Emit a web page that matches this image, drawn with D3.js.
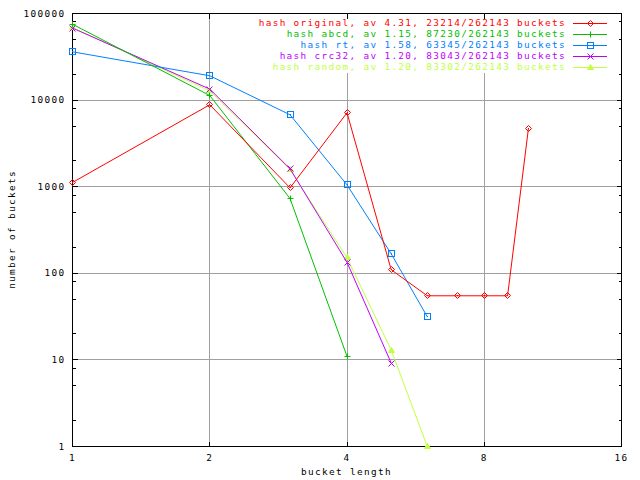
<!DOCTYPE html>
<html><head><meta charset="utf-8">
<script src="https://cdn.jsdelivr.net/npm/d3@7"></script>
<style>
body{margin:0;background:#fff;}
svg text{font-family:"DejaVu Sans Mono","Liberation Mono",monospace;font-size:9.4px;letter-spacing:1.34px;fill:#000;}
</style></head>
<body><svg id="c" width="640" height="480"></svg>
<script>
// ---- data ----
const seriesNames = ["hash original, av 4.31, 23214/262143 buckets",
  "hash abcd, av 1.15, 87230/262143 buckets",
  "hash rt, av 1.58, 63345/262143 buckets",
  "hash crc32, av 1.20, 83043/262143 buckets",
  "hash random, av 1.20, 83302/262143 buckets"];
const lenOriginal = [1,2,3,4,5,6,7,8,9,10];
const cntOriginal = [1120,8830,970,7130,110,55,55,55,55,4700];
const lenAbcd = [1,2,3,4];
const cntAbcd = [75200,11300,730,11];
const lenRt = [1,2,3,4,5,6];
const cntRt = [36100,19100,6770,1050,168,31.5];
const lenCrc32 = [1,2,3,4,5];
const cntCrc32 = [67900,13400,1610,134,9.2];
const lenRandom = [1,2,3,4,5,6];
const cntRandom = [68800,12800,1580,151,13,1];
const xTickValues = [1,2,4,8,16];
const xTickLabels = ["1","2","4","8","16"];
const yTickValues = [1,10,100,1000,10000,100000];
const yTickLabels = ["1","10","100","1000","10000","100000"];
const yMinorValues = [];
[1,10,100,1000,10000].forEach(d=>[2,5,8].forEach(m=>yMinorValues.push(d*m)));
const xLabel = "bucket length";
const yLabel = "number of buckets";
const colors = ["#ff0000","#00c000","#0080ff","#c000ff","#c0ff40"];
const markers = ["diamond","plus","square","cross","triangle"];

// ---- layout ----
const L=72, R=621, T=13, B=446;
const svg = d3.select("#c");
const x = d3.scaleLog().base(2).domain([1,16]).range([L,R]);
const y = d3.scaleLog().base(10).domain([1,100000]).range([B,T]);
const px = v => Math.round(x(v))+0.5;
const py = v => Math.round(y(v))+0.5;

// grid
const grid = svg.append("g").attr("stroke","#a0a0a0").attr("stroke-width",1).attr("shape-rendering","crispEdges");
xTickValues.slice(1,-1).forEach(v=>grid.append("line").attr("x1",px(v)).attr("x2",px(v)).attr("y1",T).attr("y2",B));
yTickValues.slice(1,-1).forEach(v=>grid.append("line").attr("x1",L).attr("x2",R).attr("y1",py(v)).attr("y2",py(v)));
// key area mask
svg.append("rect").attr("x",252).attr("y",T+1).attr("width",R-252-1).attr("height",59).attr("fill","#fff");

// axes
function styleAxis(g){ g.select(".domain").remove(); g.selectAll("line").attr("stroke","#000").attr("shape-rendering","crispEdges"); g.selectAll("text").attr("fill","#000").attr("font-family",null).attr("font-size",null); }
svg.append("g").attr("transform",`translate(${L+0.5},0)`)
  .call(d3.axisLeft(y).tickValues(yTickValues).tickFormat((d,i)=>yTickLabels[i]).tickSize(-5).tickPadding(7)).call(styleAxis);
svg.append("g").attr("transform",`translate(${L+0.5},0)`)
  .call(d3.axisLeft(y).tickValues(yMinorValues).tickFormat("").tickSize(-3)).call(styleAxis);
svg.append("g").attr("transform",`translate(${R+0.5},0)`)
  .call(d3.axisRight(y).tickValues(yTickValues).tickFormat("").tickSize(-5)).call(styleAxis);
svg.append("g").attr("transform",`translate(${R+0.5},0)`)
  .call(d3.axisRight(y).tickValues(yMinorValues).tickFormat("").tickSize(-3)).call(styleAxis);
svg.append("g").attr("transform",`translate(0,${B+0.5})`)
  .call(d3.axisBottom(x).tickValues(xTickValues).tickFormat((d,i)=>xTickLabels[i]).tickSize(-5).tickPadding(8)).call(styleAxis);
svg.append("g").attr("transform",`translate(0,${T+0.5})`)
  .call(d3.axisTop(x).tickValues(xTickValues).tickFormat("").tickSize(-5)).call(styleAxis);

// frame
svg.append("rect").attr("x",L+0.5).attr("y",T+0.5).attr("width",R-L).attr("height",B-T)
  .attr("fill","none").attr("stroke","#000").attr("shape-rendering","crispEdges");

// axis labels
svg.append("text").attr("x",(L+R)/2).attr("y",472).attr("text-anchor","middle").attr("dominant-baseline","middle").text(xLabel);
svg.append("text").attr("transform",`translate(12,${(T+B)/2}) rotate(-90)`).attr("text-anchor","middle").attr("dominant-baseline","middle").text(yLabel);

// markers
function drawMarker(g, type, cx, cy, color){
  const s=3;
  if(type==="diamond"){
    g.append("path").attr("d",`M${cx-s},${cy}L${cx},${cy-s}L${cx+s},${cy}L${cx},${cy+s}Z`).attr("fill","none").attr("stroke",color);
    g.append("rect").attr("x",cx-0.5).attr("y",cy-0.5).attr("width",1).attr("height",1).attr("fill",color);
  } else if(type==="plus"){
    g.append("path").attr("d",`M${cx-s},${cy}H${cx+s}M${cx},${cy-s}V${cy+s}`).attr("stroke",color);
  } else if(type==="square"){
    g.append("rect").attr("x",cx-s).attr("y",cy-s).attr("width",2*s).attr("height",2*s).attr("fill","none").attr("stroke",color);
    g.append("rect").attr("x",cx-0.5).attr("y",cy-0.5).attr("width",1).attr("height",1).attr("fill",color);
  } else if(type==="cross"){
    g.append("path").attr("d",`M${cx-s},${cy-s}L${cx+s},${cy+s}M${cx-s},${cy+s}L${cx+s},${cy-s}`).attr("stroke",color);
  } else {
    g.append("path").attr("d",`M${cx-s},${cy+s-1}L${cx},${cy-s}L${cx+s},${cy+s-1}Z`).attr("fill",color).attr("stroke",color);
  }
}

// series
const allLens=[lenOriginal,lenAbcd,lenRt,lenCrc32,lenRandom];
const allCnts=[cntOriginal,cntAbcd,cntRt,cntCrc32,cntRandom];
svg.append("defs").append("clipPath").attr("id","clip").append("rect").attr("x",L).attr("y",T).attr("width",R-L+1).attr("height",B-T+1);
const line = d3.line().x(d=>x(d[0])+0.5).y(d=>y(d[1])+0.5);
for(let i=allLens.length-1;i>=0;i--){
  const pts = allLens[i].map((l,j)=>[l,allCnts[i][j]]);
  const g = svg.append("g").attr("clip-path","url(#clip)");
  g.append("path").datum(pts).attr("d",line).attr("fill","none").attr("stroke",colors[i]).attr("stroke-width",1);
  const mg = svg.append("g").attr("stroke-width",1);
  pts.forEach(p=>drawMarker(mg,markers[i],Math.round(x(p[0]))+0.5,Math.round(y(p[1]))+0.5,colors[i]));
}

// legend
const key = svg.append("g");
seriesNames.forEach((n,i)=>{
  const yy = 23 + i*11 + 0.5;
  key.append("text").attr("x",566).attr("y",yy).attr("text-anchor","end").attr("dominant-baseline","middle").style("fill",colors[i]).text(n);
  key.append("line").attr("x1",573).attr("x2",607).attr("y1",yy).attr("y2",yy).attr("stroke",colors[i]);
  drawMarker(key,markers[i],590.5,yy,colors[i]);
});
</script></body></html>
